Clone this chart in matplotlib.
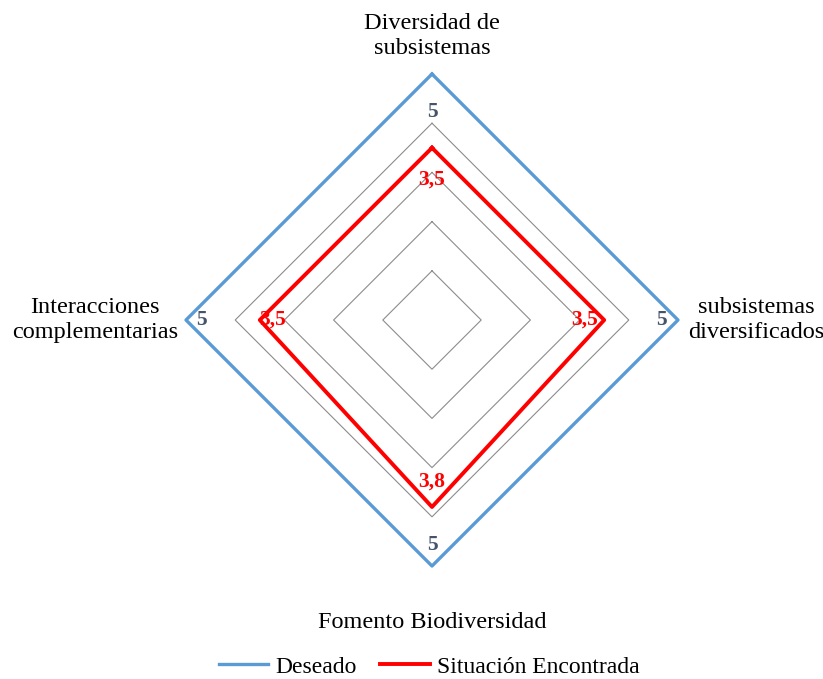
import numpy as np
import matplotlib
matplotlib.use('Agg')
import matplotlib.pyplot as plt

# chart data
categorias = ['Diversidad de\nsubsistemas', 'subsistemas\ndiversificados',
              'Fomento Biodiversidad', 'Interacciones\ncomplementarias']
deseado = [5, 5, 5, 5]
encontrada = [3.5, 3.5, 3.8, 3.5]
etiquetas_deseado = ['5', '5', '5', '5']
etiquetas_encontrada = ['3,5', '3,5', '3,8', '3,5']
niveles = [1, 2, 3, 4, 5]

plt.rcParams['font.family'] = ['Liberation Serif', 'DejaVu Serif']

def main():
    fig = plt.figure(figsize=(8.23, 6.79), dpi=100)
    ax = fig.add_axes([0.226, 0.1664, 0.5978, 0.7246], projection='polar')
    ax.set_theta_offset(np.pi / 2)
    ax.set_theta_direction(-1)
    ax.set_ylim(0, 5)
    ax.grid(False)
    ax.set_xticks([])
    ax.set_yticks([])
    ax.spines['polar'].set_visible(False)
    ax.patch.set_alpha(0)

    theta = np.arange(len(categorias)) * 2 * np.pi / len(categorias)
    tt = np.append(theta, theta[0])

    for n in niveles:
        ax.plot(tt, [n] * len(tt), color='#8c8c8c', lw=0.8, clip_on=False, zorder=1)

    ax.plot(tt, deseado + deseado[:1], color='#5b9bd5', lw=2.4, clip_on=False,
            zorder=3, label='Deseado')
    ax.plot(tt, encontrada + encontrada[:1], color='#ff0000', lw=2.8, clip_on=False,
            zorder=4, label='Situación Encontrada')

    # label offsets (pixels) per direction: top, right, bottom, left
    off_des = [(0, -38), (-17, 0), (0, 21), (15, 0)]
    off_enc = [(0, -32), (-20, 0), (0, 25), (13, 0)]
    for i in range(len(categorias)):
        ax.annotate(etiquetas_deseado[i], (theta[i], deseado[i]), xytext=off_des[i],
                    textcoords='offset pixels', ha='center', va='center',
                    fontsize=15.5, fontweight='bold', color='#44546a', zorder=5)
        ax.annotate(etiquetas_encontrada[i], (theta[i], encontrada[i]), xytext=off_enc[i],
                    textcoords='offset pixels', ha='center', va='center',
                    fontsize=15.5, fontweight='bold', color='#ff0000', zorder=5)

    off_cat = [(0, 284 - 246), (78, 0), (0, -56), (-91, 0)]
    for i in range(len(categorias)):
        ax.annotate(categorias[i], (theta[i], 5), xytext=off_cat[i],
                    textcoords='offset pixels', ha='center', va='center',
                    fontsize=17.5, color='black', linespacing=1.25,
                    annotation_clip=False)

    fig.legend(loc='center', bbox_to_anchor=(429 / 823, 0.018), ncol=2,
               frameon=False, fontsize=17, handlelength=2.1,
               handletextpad=0.3, columnspacing=1.0)

    fig.savefig('out.png', dpi=100)

if __name__ == '__main__':
    main()
